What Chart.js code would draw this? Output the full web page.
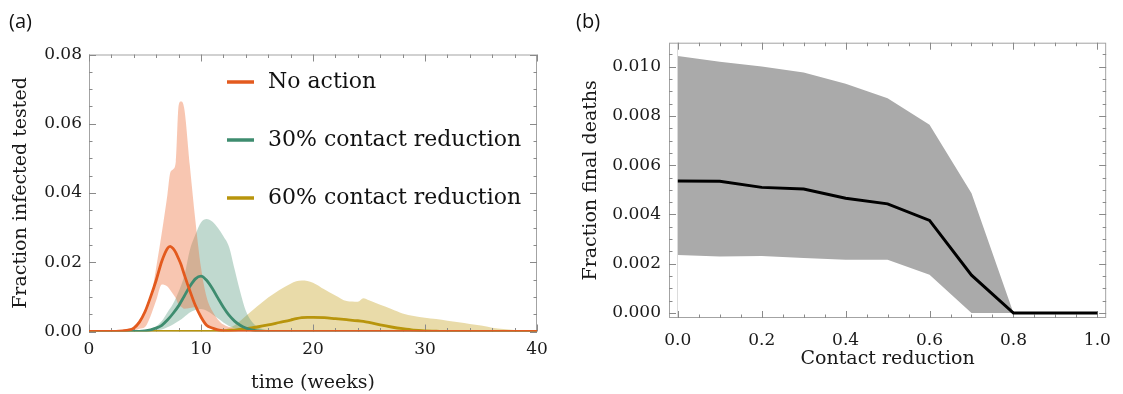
<!DOCTYPE html>
<html>
<head>
<meta charset="utf-8">
<script src="https://cdn.jsdelivr.net/npm/chart.js@4.4.1/dist/chart.umd.min.js"></script>
<style>
  html, body { margin: 0; padding: 0; background: #fff; }
  body { width: 1123px; height: 394px; position: relative; overflow: hidden; }
  .panel { position: absolute; top: 0; height: 394px; }
  #wrapA { left: 0; width: 560px; }
  #wrapB { left: 560px; width: 563px; }
  .tag { position: absolute; top: 7px; font: 20px "Open Sans", sans-serif; color: #111; z-index: 2; }
</style>
</head>
<body>
<div class="tag" style="left:9px">(a)</div>
<div class="tag" style="left:576px">(b)</div>
<div class="panel" id="wrapA"><canvas id="chartA"></canvas></div>
<div class="panel" id="wrapB"><canvas id="chartB"></canvas></div>

<script>
// ---- panel (a) data: time in weeks, fraction infected tested ----
const seriesLabels = ['No action', '30% contact reduction', '60% contact reduction'];

const tNo   = [0, 2, 3, 3.5, 4, 4.5, 5, 5.5, 6, 6.5, 7, 7.25, 7.5, 7.75, 8, 8.2, 8.5, 9, 9.5, 10, 10.5, 11, 11.5, 12, 13, 14, 16, 40];
const noMed = [0, 0, 0.0002, 0.0004, 0.0010, 0.0027, 0.0057, 0.0100, 0.0148, 0.0203, 0.0240, 0.0246, 0.0240, 0.0228, 0.0210, 0.0195, 0.0165, 0.0118, 0.0075, 0.0042, 0.0018, 0.0010, 0.0005, 0.0002, 0, 0, 0, 0];
const noLo  = [0, 0, 0, 0.0001, 0.0003, 0.0008, 0.0013, 0.0045, 0.0090, 0.0136, 0.0130, 0.0120, 0.0108, 0.0096, 0.0078, 0.0072, 0.0066, 0.0068, 0.0070, 0.0036, 0.0015, 0.0008, 0.0004, 0.0002, 0, 0, 0, 0];
const noHi  = [0, 0, 0.0003, 0.0006, 0.0014, 0.0033, 0.0064, 0.0095, 0.0185, 0.0285, 0.0395, 0.0458, 0.0468, 0.0490, 0.0652, 0.0664, 0.0645, 0.0480, 0.0320, 0.0185, 0.0100, 0.0060, 0.0035, 0.0020, 0.0008, 0.0003, 0, 0];

const tThirty   = [0, 4, 5, 5.5, 6, 6.5, 7, 7.5, 8, 8.5, 9, 9.5, 10, 10.5, 11, 11.5, 12, 12.5, 13, 13.5, 14, 14.5, 15, 16, 17, 40];
const thirtyMed = [0, 0, 0.0002, 0.0005, 0.0010, 0.0018, 0.0033, 0.0052, 0.0074, 0.0102, 0.0130, 0.0152, 0.0160, 0.0148, 0.0125, 0.0097, 0.0070, 0.0047, 0.0030, 0.0018, 0.0010, 0.0005, 0.0002, 0, 0, 0];
const thirtyLo  = [0, 0, 0, 0.0001, 0.0003, 0.0006, 0.0012, 0.0020, 0.0030, 0.0042, 0.0055, 0.0062, 0.0065, 0.0060, 0.0050, 0.0038, 0.0026, 0.0016, 0.0009, 0.0005, 0.0002, 0.0001, 0, 0, 0, 0];
const thirtyHi  = [0, 0, 0.0003, 0.0007, 0.0015, 0.0030, 0.0055, 0.0080, 0.0115, 0.0160, 0.0235, 0.0280, 0.0315, 0.0325, 0.0318, 0.0300, 0.0275, 0.0245, 0.0180, 0.0115, 0.0060, 0.0030, 0.0014, 0.0004, 0, 0];

const tSixty   = [0, 10, 12, 13, 14, 15, 16, 17, 18, 18.5, 19, 19.5, 20, 21, 22, 23, 24, 24.5, 25, 26, 27, 28, 29, 30, 31, 32, 33, 34, 35, 36, 37, 38, 39, 40];
const sixtyMed = [0, 0, 0.0002, 0.0004, 0.0008, 0.0013, 0.0019, 0.0026, 0.0033, 0.0037, 0.0040, 0.0041, 0.0041, 0.0040, 0.0037, 0.0034, 0.0031, 0.0029, 0.0026, 0.0019, 0.0013, 0.0008, 0.0004, 0.0002, 0.0001, 0, 0, 0, 0, 0, 0, 0, 0, 0];
const sixtyLo  = [0, 0, 0, 0, 0, 0, 0.0001, 0.0002, 0.0003, 0.0003, 0.0003, 0.0003, 0.0003, 0.0003, 0.0003, 0.0003, 0.0003, 0.0003, 0.0003, 0.0002, 0.0001, 0, 0, 0, 0, 0, 0, 0, 0, 0, 0, 0, 0, 0];
const sixtyHi  = [0, 0, 0.0005, 0.0018, 0.0045, 0.0072, 0.0098, 0.0120, 0.0138, 0.0145, 0.0147, 0.0146, 0.0141, 0.0122, 0.0104, 0.0088, 0.0086, 0.0096, 0.0090, 0.0077, 0.0065, 0.0052, 0.0045, 0.0040, 0.0036, 0.0031, 0.0027, 0.0022, 0.0017, 0.0011, 0.0007, 0.0004, 0.0001, 0];

const timeTicks = [0, 10, 20, 30, 40];
const fracTicks = [0, 0.02, 0.04, 0.06, 0.08];

// ---- panel (b) data: contact reduction vs fraction final deaths ----
const reduction = [0, 0.1, 0.2, 0.3, 0.4, 0.5, 0.6, 0.7, 0.8, 0.9, 1.0];
const deathMed  = [0.00536, 0.00535, 0.00510, 0.00503, 0.00466, 0.00443, 0.00376, 0.00154, 0, 0, 0];
const deathLo   = [0.00236, 0.00230, 0.00232, 0.00223, 0.00216, 0.00216, 0.00155, 0, 0, 0, 0];
const deathHi   = [0.01043, 0.01020, 0.01000, 0.00976, 0.00930, 0.00872, 0.00764, 0.00486, 0, 0, 0];

const reductionTicks = [0, 0.2, 0.4, 0.6, 0.8, 1.0];
const deathTicks = [0, 0.002, 0.004, 0.006, 0.008, 0.010];

const SERIF = '"DejaVu Serif", serif';
const pts = (xs, ys) => xs.map((x, i) => ({ x, y: ys[i] }));

// frame + inward major/minor ticks on all four sides
const frameTicks = {
  id: 'frameTicks',
  beforeDatasetsDraw(chart, args, o) {
    const { ctx, chartArea: a, scales: { x, y } } = chart;
    ctx.save();
    ctx.strokeStyle = '#a3a3a3';
    ctx.lineWidth = 1;
    ctx.strokeRect(a.left + 0.5, a.top + 0.5, a.width - 1, a.height - 1);
    ctx.strokeStyle = '#8a8a8a';
    const run = (scale, minor, major, fn) => {
      const n0 = Math.ceil(scale.min / minor - 1e-9), n1 = Math.floor(scale.max / minor + 1e-9);
      for (let k = n0; k <= n1; k++) {
        const v = k * minor;
        const isMajor = Math.abs(v / major - Math.round(v / major)) < 1e-6;
        fn(Math.round(scale.getPixelForValue(v)) + 0.5, isMajor ? 7 : 3.5);
      }
    };
    ctx.beginPath();
    run(x, o.xMinor, o.xMajor, (p, len) => {
      ctx.moveTo(p, a.bottom); ctx.lineTo(p, a.bottom - len);
      ctx.moveTo(p, a.top); ctx.lineTo(p, a.top + len);
    });
    run(y, o.yMinor, o.yMajor, (p, len) => {
      ctx.moveTo(a.left, p); ctx.lineTo(a.left + len, p);
      ctx.moveTo(a.right, p); ctx.lineTo(a.right - len, p);
    });
    ctx.stroke();
    ctx.restore();
  }
};

// legend drawn inside panel (a)
const legendA = {
  id: 'legendA',
  afterDatasetsDraw(chart) {
    const { ctx } = chart;
    const items = chart.data.datasets.filter(d => d.label);
    ctx.save();
    ctx.font = '22px ' + SERIF;
    ctx.textBaseline = 'middle';
    items.forEach((d, i) => {
      const y = 82 + i * 58;
      ctx.strokeStyle = d.borderColor;
      ctx.lineWidth = 3.5;
      ctx.beginPath(); ctx.moveTo(227, y); ctx.lineTo(254, y); ctx.stroke();
      ctx.fillStyle = '#111';
      ctx.fillText(d.label, 268, y);
    });
    ctx.restore();
  }
};

function bandSet(t, lo, hi, med, label, line, band, base) {
  return [
    { data: pts(t, lo), borderWidth: 0, pointRadius: 0, fill: false, cubicInterpolationMode: 'monotone', order: 2 },
    { data: pts(t, hi), borderWidth: 0, pointRadius: 0, fill: { target: base }, backgroundColor: band, cubicInterpolationMode: 'monotone', order: 2 },
    { label, data: pts(t, med), borderColor: line, borderWidth: 2.8, pointRadius: 0, fill: false, cubicInterpolationMode: 'monotone', order: 1 }
  ];
}

const tickFont = { family: SERIF, size: 17 };
const titleFont = { family: SERIF, size: 19 };

new Chart(document.getElementById('chartA'), {
  type: 'line',
  data: {
    datasets: [
      ...bandSet(tNo, noLo, noHi, noMed, seriesLabels[0], '#e35a1e', 'rgba(238,120,70,0.42)', 0),
      ...bandSet(tThirty, thirtyLo, thirtyHi, thirtyMed, seriesLabels[1], '#3e8c6f', 'rgba(70,145,115,0.34)', 3),
      ...bandSet(tSixty, sixtyLo, sixtyHi, sixtyMed, seriesLabels[2], '#b8950c', 'rgba(200,165,40,0.40)', 6)
    ]
  },
  options: {
    responsive: true,
    maintainAspectRatio: false,
    animation: false,
    layout: { padding: { top: 54.5, right: 23, left: 0, bottom: 0 } },
    plugins: {
      legend: { display: false },
      tooltip: { enabled: false },
      filler: { drawTime: 'beforeDatasetsDraw' },
      frameTicks: { xMinor: 2, xMajor: 10, yMinor: 0.005, yMajor: 0.02 }
    },
    scales: {
      x: {
        type: 'linear', min: 0, max: 40,
        grid: { display: false, drawTicks: false },
        border: { display: false },
        afterBuildTicks: s => { s.ticks = timeTicks.map(v => ({ value: v })); },
        afterFit: s => { s.height = 62.5; },
        ticks: { padding: 8, color: '#1a1a1a', font: tickFont, maxRotation: 0, autoSkip: false, callback: v => String(v) },
        title: { display: true, text: 'time (weeks)', color: '#1a1a1a', font: titleFont, padding: { top: 0, bottom: 0 } }
      },
      y: {
        min: 0, max: 0.08,
        grid: { display: false, drawTicks: false },
        border: { display: false },
        afterBuildTicks: s => { s.ticks = fracTicks.map(v => ({ value: v })); },
        afterFit: s => { s.width = 89; },
        ticks: { padding: 7, color: '#1a1a1a', font: tickFont, autoSkip: false, callback: v => v.toFixed(2) },
        title: { display: true, text: 'Fraction infected tested', color: '#1a1a1a', font: titleFont, padding: { top: 10, bottom: 0 } }
      }
    }
  },
  plugins: [frameTicks, legendA]
});

new Chart(document.getElementById('chartB'), {
  type: 'line',
  data: {
    datasets: [
      { data: pts(reduction, deathLo), borderWidth: 0, pointRadius: 0, fill: false, order: 2 },
      { data: pts(reduction, deathHi), borderWidth: 0, pointRadius: 0, fill: { target: 0 }, backgroundColor: '#aaaaaa', order: 2 },
      { data: pts(reduction, deathMed), borderColor: '#000', borderWidth: 3, pointRadius: 0, fill: false, order: 1 }
    ]
  },
  options: {
    responsive: true,
    maintainAspectRatio: false,
    animation: false,
    layout: { padding: { top: 42.7, right: 6, left: 0, bottom: 0 } },
    plugins: {
      legend: { display: false },
      tooltip: { enabled: false },
      filler: { drawTime: 'beforeDatasetsDraw' },
      frameTicks: { xMinor: 0.05, xMajor: 0.2, yMinor: 0.0005, yMajor: 0.002 }
    },
    scales: {
      x: {
        type: 'linear', min: -0.021, max: 1.021,
        grid: { display: true, drawTicks: false, color: c => (c.tick && c.tick.value === 0 ? '#dcdcdc' : 'rgba(0,0,0,0)') },
        border: { display: false },
        afterBuildTicks: s => { s.ticks = reductionTicks.map(v => ({ value: v })); },
        afterFit: s => { s.height = 76; },
        ticks: { padding: 12, color: '#1a1a1a', font: tickFont, maxRotation: 0, autoSkip: false, callback: v => v.toFixed(1) },
        title: { display: true, text: 'Contact reduction', color: '#1a1a1a', font: titleFont, padding: { top: 0, bottom: 24 } }
      },
      y: {
        min: -0.0002, max: 0.01097,
        grid: { display: false, drawTicks: false },
        border: { display: false },
        afterBuildTicks: s => { s.ticks = deathTicks.map(v => ({ value: v })); },
        afterFit: s => { s.width = 109; },
        ticks: { padding: 8, color: '#1a1a1a', font: tickFont, autoSkip: false, callback: v => v.toFixed(3) },
        title: { display: true, text: 'Fraction final deaths', color: '#1a1a1a', font: titleFont, padding: { top: 20, bottom: 0 } }
      }
    }
  },
  plugins: [frameTicks]
});
</script>
</body>
</html>
